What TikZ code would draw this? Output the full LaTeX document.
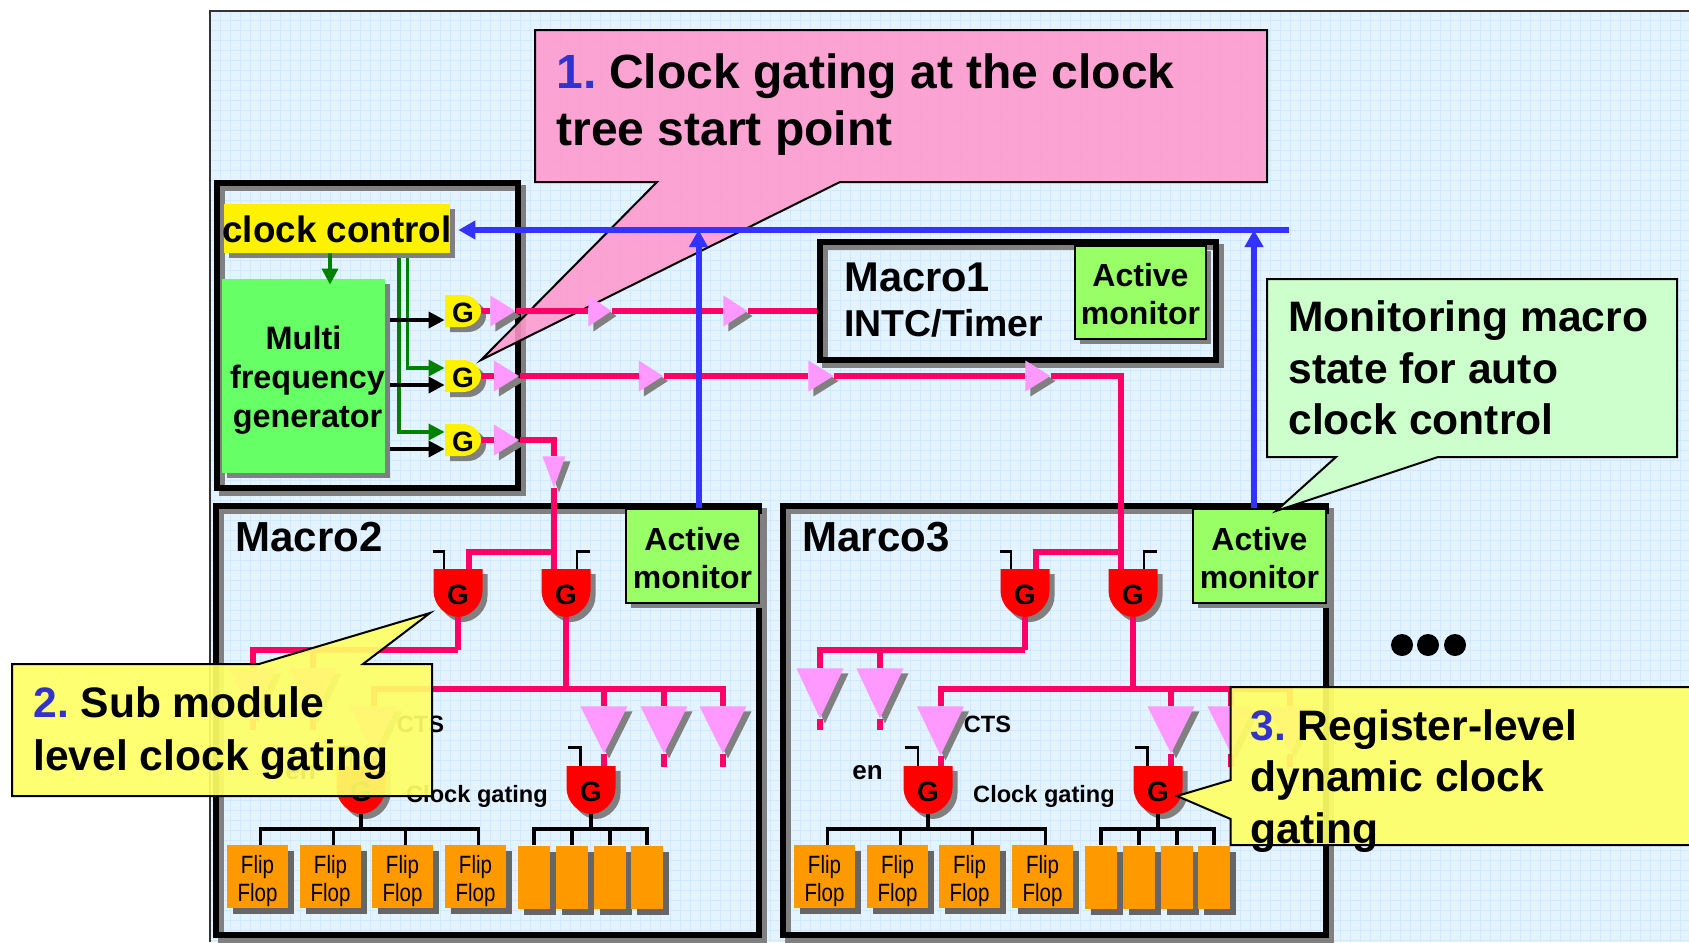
\documentclass[tikz,border=0pt]{standalone}
\usepackage{fontspec}
\setmainfont{Liberation Sans}
\newfontfamily\narrowfont[FakeStretch=0.82]{Liberation Sans}
\usetikzlibrary{arrows.meta,shapes.geometric,shadows}
\definecolor{paneblue}{HTML}{E3F3FF}
\definecolor{gridblue}{HTML}{CFEAFF}
\definecolor{shadegrey}{HTML}{808080}
\definecolor{ffgrey}{HTML}{666666}
\definecolor{clkpink}{HTML}{FF0066}
\definecolor{bufpink}{HTML}{FF99FF}
\definecolor{wireblue}{HTML}{3333FF}
\definecolor{numblue}{HTML}{3333CC}
\definecolor{wiregreen}{HTML}{008000}
\definecolor{genfill}{HTML}{66FF66}
\definecolor{monfill}{HTML}{99FF66}
\definecolor{fforange}{HTML}{FF9900}
\definecolor{notepink}{HTML}{FF99CC}
\definecolor{noteyellow}{HTML}{FFFF66}
\definecolor{notegreen}{HTML}{CCFFCC}
\tikzset{
  pxsize/.style 2 args={minimum width=#1*0.5pt,minimum height=#2*0.5pt},
  greyshadow/.style={general shadow={shadow xshift=2.5pt,shadow yshift=-2.5pt,fill=shadegrey}},
  frame/.style={draw,line width=3pt,inner sep=0pt,
    general shadow={shadow xshift=2.5pt,shadow yshift=-2.5pt,draw=shadegrey,line width=3pt}},
  monitor/.style={draw,line width=1pt,fill=monfill,greyshadow,inner sep=0pt,
    label={[montext]center:Active\\monitor}},
  montext/.style={inner sep=0pt,align=center,yshift=-1pt,font=\bfseries\fontsize{16}{19}\selectfont},
  flipflop/.style={fill=fforange,inner sep=0pt,
    general shadow={shadow xshift=3pt,shadow yshift=-3pt,fill=ffgrey}},
  fftext/.style={inner sep=0pt,align=center,yshift=-2.15pt,font=\narrowfont\fontsize{12.5}{14}\selectfont},
  gatelabel/.style={inner sep=0pt,yshift=-1pt,font=\bfseries\fontsize{14}{14}\selectfont},
  bufdown/.style={isosceles triangle,isosceles triangle stretches,shape border rotate=-90,
    fill=bufpink,greyshadow,inner sep=0pt,anchor=lower side},
  bufright/.style={isosceles triangle,isosceles triangle stretches,
    fill=bufpink,greyshadow,inner sep=0pt,anchor=lower side},
  clk/.style={draw=clkpink,line width=3pt},
  stub/.style={draw=black,line width=1.25pt},
  tree/.style={draw=black,line width=1.75pt},
  bluewire/.style={draw=wireblue,line width=3pt,-{Triangle[length=8.5pt,width=9pt]}},
  greenwire/.style={draw=wiregreen,line width=1.75pt,-{Triangle[length=8pt,width=8pt]}},
  blackwire/.style={draw=black,line width=1.75pt,-{Triangle[length=8pt,width=8pt]}},
  notetext/.style={inner sep=0pt,anchor=west,align=left},
  notepath/.style={draw=black,line width=1pt},
  redshape/.pic={\path[fill=red,greyshadow] (-24.5,-24) -- (24.5,-24) -- (24.5,-2)
    .. controls (24.5,12) and (12,24) .. (0,24) .. controls (-12,24) and (-24.5,12) .. (-24.5,-2) -- cycle;},
  yellowshape/.pic={\path[fill=yellow,greyshadow] (-18,-16) -- (0,-16)
    .. controls (10,-16) and (18,-8) .. (18,0) .. controls (18,8) and (10,16) .. (0,16) -- (-18,16) -- cycle;}
}
\newcommand{\redgate}[3]{\pic at (#2,#3) {redshape}; \node[inner sep=0pt,pxsize={49}{48},label={[gatelabel]center:G}] (#1) at (#2,#3) {};}
\newcommand{\yellowgate}[3]{\pic at (#2,#3) {yellowshape}; \node[inner sep=0pt,pxsize={36}{32},label={[gatelabel]center:G}] (#1) at (#2,#3) {};}
\begin{document}
\begin{tikzpicture}[x=0.5pt,y=-0.5pt]
  \useasboundingbox (0,0) rectangle (1689,942);
  % slide pane
  \fill[paneblue] (210,11) rectangle (1689,942);
  \foreach \gx in {220,230,...,1680} \draw[gridblue,line width=0.5pt] (\gx,11) -- (\gx,942);
  \foreach \gy in {20,30,...,940} \draw[gridblue,line width=0.5pt] (210,\gy) -- (1689,\gy);
  \draw[line width=1pt,black!80] (210,942) -- (210,11) -- (1689,11);

  \node[frame,pxsize={301}{305}] (ctrlbox) at (367,335.5) {};
  \node[frame,pxsize={396}{118}] (m1) at (1018,301) {};

  % note 1 lies under the wires
  \path[notepath,fill=notepink,fill opacity=0.88] (535,30) -- (1267,30) -- (1267,182) -- (840,182)
    -- (481,360) -- (657,182) -- (535,182) -- cycle;
  \node[notetext,font=\bfseries\fontsize{24}{28.5}\selectfont] (note1) at (556,104.5)
    {{\color{numblue}1.}\hspace{-2.5pt} Clock gating at the clock\\tree start point};

  % clock block
  \node[fill=yellow,greyshadow,pxsize={226}{49},inner sep=0pt,
    label={[inner sep=0pt,yshift=-0.5pt,font=\bfseries\fontsize{18.4}{20}\selectfont]center:clock control}] (cc) at (337,228.5) {};
  \node[fill=genfill,greyshadow,pxsize={163}{194},inner sep=0pt,
    label={[inner sep=0pt,align=center,yshift=-2.15pt,font=\bfseries\fontsize{16.2}{19.5}\selectfont]center:Multi\\\hspace*{4pt}frequency\\\hspace*{4pt}generator}] (gen) at (303.5,376) {};
  \yellowgate{yg1}{463}{311}
  \yellowgate{yg2}{463}{376}
  \yellowgate{yg3}{463}{440}
  \draw[greenwire] ([xshift=-3.5pt]cc.south) -- ([xshift=-3.5pt,yshift=-3pt]cc.south |- gen.north);
  \draw[greenwire] ([xshift=35.25pt,yshift=-2.5pt]cc.south) |- ([yshift=4pt]yg2.west);
  \draw[greenwire] ([xshift=31pt,yshift=-2.5pt]cc.south) |- ([yshift=4pt]yg3.west);
  \foreach \gname in {yg1,yg2,yg3}
    \draw[blackwire] ([xshift=2.5pt,yshift=-4.5pt]\gname.west -| gen.east) -- ([yshift=-4.5pt]\gname.west);

  % macro 2 and macro 3 are laid out alike
  \foreach \dx/\mlabel/\m in {0/Macro2/b,567/Marco3/c} {
    \node[frame,pxsize={542.5}{429}] (m\m) at (487.5+\dx,720.5) {};
    \node[inner sep=0pt,anchor=west,font=\bfseries\fontsize{21}{21}\selectfont] (lab\m) at (235+\dx,537) {\mlabel};
    \node[monitor,pxsize={133}{94}] (mon\m) at (692.5+\dx,556) {};
    \redgate{gA\m}{458+\dx}{593}
    \redgate{gB\m}{566+\dx}{593}
    \redgate{gC\m}{361+\dx}{790}
    \redgate{gD\m}{591+\dx}{790}
    \draw[stub] ([xshift=-7pt]gA\m.north) -- ++(0,-17) -- ++(-11,0);
    \draw[stub] ([xshift=5.5pt]gB\m.north) -- ++(0,-17) -- ++(13,0);
    \draw[stub] ([xshift=-5pt]gC\m.north) -- ++(0,-18) -- ++(-13,0);
    \draw[stub] ([xshift=-5.25pt]gD\m.north) -- ++(0,-18) -- ++(-13,0);
    \coordinate (tap\m) at (554+\dx,552);
    \draw[clk] ([xshift=5.5pt]gA\m.north) |- (tap\m);
    % clock tree buffers
    \node[bufdown,pxsize={47}{50}] (tA\m) at (253+\dx,668) {};
    \node[bufdown,pxsize={47}{50}] (tB\m) at (313+\dx,668) {};
    \node[bufdown,pxsize={47}{49}] (tC\m) at (373.5+\dx,706) {};
    \node[bufdown,pxsize={47}{47}] (tD\m) at (604+\dx,706) {};
    \node[bufdown,pxsize={47}{47}] (tE\m) at (664+\dx,706) {};
    \node[bufdown,pxsize={47}{47}] (tF\m) at (723+\dx,706) {};
    \coordinate (busl\m) at (458+\dx,650);
    \coordinate (busr\m) at (566+\dx,689);
    \coordinate (endA\m) at (253+\dx,730);
    \coordinate (endB\m) at (313+\dx,730);
    \coordinate (endE\m) at (664+\dx,767);
    \coordinate (endF\m) at (723+\dx,767);
    \draw[clk] (gA\m.south) -- (busl\m);
    \draw[clk] (tA\m.lower side) |- (busl\m);
    \draw[clk] (tB\m.lower side) -- (tB\m.lower side |- busl\m);
    \draw[clk] (gB\m.south) -- (busr\m);
    \draw[clk] (tC\m.lower side) |- (busr\m) -| (tF\m.lower side);
    \draw[clk] (tD\m.lower side) -- (tD\m.lower side |- busr\m);
    \draw[clk] (tE\m.lower side) -- (tE\m.lower side |- busr\m);
    \draw[clk] (tA\m.apex) -- (endA\m);
    \draw[clk] (tB\m.apex) -- (endB\m);
    \draw[clk] (tC\m.apex) -- ([xshift=6.25pt]gC\m.north);
    \draw[clk] (tD\m.apex) -- ([xshift=6.5pt]gD\m.north);
    \draw[clk] (tE\m.apex) -- (endE\m);
    \draw[clk] (tF\m.apex) -- (endF\m);
    \node[inner sep=0pt,font=\bfseries\fontsize{11.8}{12}\selectfont] (cts\m) at (420.5+\dx,724) {CTS};
    \node[inner sep=0pt,font=\bfseries\fontsize{13}{13}\selectfont] (en\m) at (300.5+\dx,773) {en};
    \node[inner sep=0pt,font=\bfseries\fontsize{11.8}{12}\selectfont] (cg\m) at (477+\dx,796) {Clock gating};
    % flip flops
    \foreach \fx [count=\ffn] in {257.5,330.5,402.5,475.5}
      \node[flipflop,pxsize={61}{63},label={[fftext]center:Flip\\Flop}] (ff\ffn\m) at (\fx+\dx,876.5) {};
    \foreach \fx [count=\ffn from 5] in {534,572,610,647}
      \node[flipflop,pxsize={32}{63}] (ff\ffn\m) at (\fx+\dx,877) {};
    \coordinate (barC\m) at (361+\dx,829);
    \coordinate (barD\m) at (591+\dx,829);
    \draw[tree] (gC\m.south) -- (barC\m);
    \draw[tree] ([xshift=1.5pt]ff1\m.north) |- (barC\m) -| ([xshift=1.5pt]ff4\m.north);
    \draw[tree] ([xshift=1.5pt]ff2\m.north) -- ([xshift=1.5pt]ff2\m.north |- barC\m);
    \draw[tree] ([xshift=1.5pt]ff3\m.north) -- ([xshift=1.5pt]ff3\m.north |- barC\m);
    \draw[tree] (gD\m.south) -- (barD\m);
    \draw[tree] (ff5\m.north) |- (barD\m) -| (ff8\m.north);
    \draw[tree] (ff6\m.north) -- (ff6\m.north |- barD\m);
    \draw[tree] (ff7\m.north) -- (ff7\m.north |- barD\m);
  }

  % macro 1
  \node[inner sep=0pt,anchor=west,font=\bfseries\fontsize{20.8}{20.8}\selectfont] (lab1) at (844,277) {Macro1};
  \node[inner sep=0pt,anchor=west,font=\bfseries\fontsize{18.7}{18.7}\selectfont] (lab1b) at (844,323) {INTC/Timer};
  \node[monitor,pxsize={131}{93}] (mon1) at (1140.5,292.5) {};

  % clock tree out of the gates
  \node[bufright,pxsize={31}{25}] (t11) at (490,311) {};
  \node[bufright,pxsize={31}{23}] (t12) at (588,311) {};
  \node[bufright,pxsize={31}{24}] (t13) at (723,311) {};
  \node[bufright,pxsize={31}{25}] (t21) at (493.5,376) {};
  \node[bufright,pxsize={31}{24}] (t22) at (638.5,376) {};
  \node[bufright,pxsize={31}{25}] (t23) at (808,376) {};
  \node[bufright,pxsize={31}{25}] (t24) at (1025,376) {};
  \node[bufright,pxsize={31}{25}] (t31) at (493.5,440) {};
  \node[bufdown,pxsize={23}{31}] (t32) at (554,456) {};
  \draw[clk] (yg1.east) -- (t11.lower side);
  \draw[clk] (t11.apex) -- (t12.lower side);
  \draw[clk] (t12.apex) -- (t13.lower side);
  \draw[clk] (t13.apex) -- (t13.apex -| m1.west);
  \draw[clk] (yg2.east) -- (t21.lower side);
  \draw[clk] (t21.apex) -- (t22.lower side);
  \draw[clk] (t22.apex) -- (t23.lower side);
  \draw[clk] (t23.apex) -- (t24.lower side);
  \draw[clk] (t24.apex) -| ([xshift=-6pt]gBc.north);
  \draw[clk] (yg3.east) -- (t31.lower side);
  \draw[clk] (t31.apex) -| (t32.lower side);
  \draw[clk] (t32.apex) -- ([xshift=-6pt]gBb.north);

  % monitor feedback
  \coordinate (busend) at (1289,230);
  \draw[bluewire] (busend) -- ([xshift=4pt]busend -| cc.east);
  \draw[bluewire] ([xshift=3pt]monb.north) -- ([xshift=3pt]monb.north |- busend);
  \draw[bluewire] ([xshift=-2.75pt]monc.north) -- ([xshift=-2.75pt]monc.north |- busend);

  \foreach \px [count=\dotn] in {1402,1428,1455}
    \node[circle,fill=black,inner sep=0pt,minimum size=11pt] (dot\dotn) at (\px,645) {};

  % notes on top
  \path[notepath,fill=notegreen] (1267,279) -- (1677,279) -- (1677,457) -- (1438,457)
    -- (1276,511) -- (1336,457) -- (1267,457) -- cycle;
  \node[notetext,font=\bfseries\fontsize{21.3}{25.75}\selectfont] (note4) at (1288,368)
    {Monitoring macro\\state for auto\\clock control};
  \path[notepath,fill=noteyellow,fill opacity=0.92] (12,664) -- (259,664) -- (430,613) -- (363,664)
    -- (432,664) -- (432,796) -- (12,796) -- cycle;
  \node[notetext,font=\bfseries\fontsize{21.3}{26.5}\selectfont] (note2) at (33,733.5)
    {{\color{numblue}2.}\hspace{-2pt} Sub module\\level clock gating};
  \path[notepath,fill=noteyellow,fill opacity=0.92] (1230.6,687) -- (1695,687) -- (1695,845) -- (1230.6,845)
    -- (1230.6,819) -- (1177,796) -- (1230.6,780) -- cycle;
  \node[notetext,font=\bfseries\fontsize{21.3}{25.75}\selectfont] (note3) at (1250,781)
    {{\color{numblue}3.}\hspace{-2pt} Register-level\\dynamic clock\\gating};
\end{tikzpicture}
\end{document}
